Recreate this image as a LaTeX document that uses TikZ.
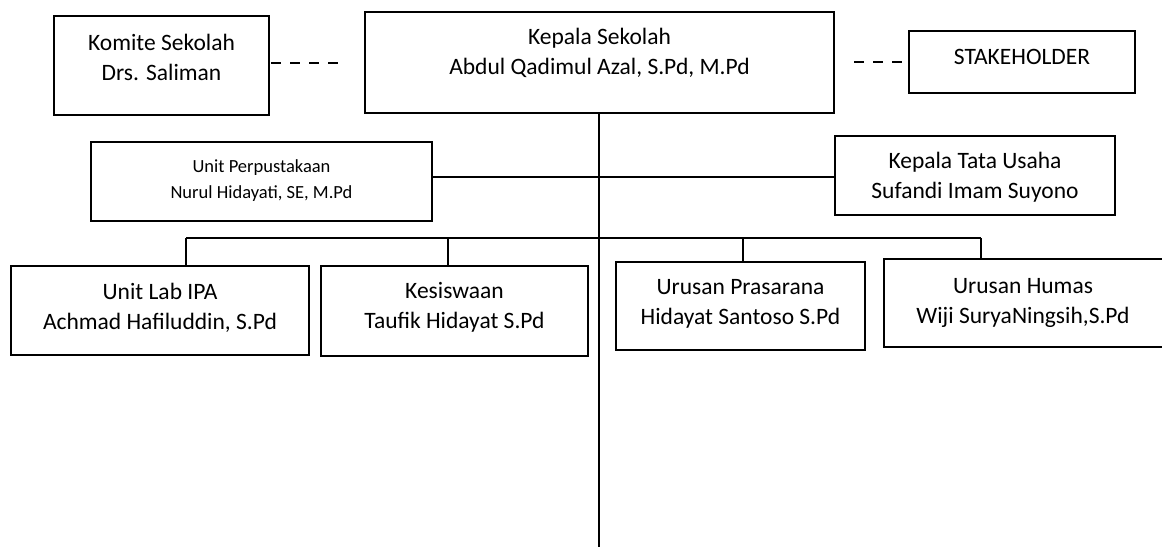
\documentclass[tikz,border=0pt]{standalone}
\usepackage{fontspec}
\setmainfont{Carlito}
\usetikzlibrary{calc}
\tikzset{
  orgbox/.style={draw=black, line width=1.4pt, fill=white, inner sep=0pt},
  orgtxt/.style={align=center, inner sep=0pt, font=\fontsize{23.5}{30}\selectfont},
  smalltxt/.style={align=center, inner sep=0pt, font=\fontsize{18.5}{26}\selectfont},
  conn/.style={line width=2pt, draw=black},
  mainline/.style={line width=2.6pt, draw=black},
  dashconn/.style={line width=2.4pt, draw=black}
}
\newcommand{\orgnode}[6]{% name, x1, y1, x2, y2
  \node[orgbox, minimum width={#4-#2}, minimum height={#5-#3}] (#1) at ({(#2+#4)/2},{(#3+#5)/2}) {};
}
\begin{document}
\begin{tikzpicture}[x=1pt,y=-1pt]
\useasboundingbox (0,0) rectangle (1162,547);
\fill[white] (0,0) rectangle (1162,547);

% boxes
\orgnode{kom}{54}{16}{269}{115}{}
\orgnode{kep}{365}{12}{834}{113}{}
\orgnode{stk}{909}{31}{1135}{93}{}
\orgnode{perp}{91}{142}{432}{221}{}
\orgnode{tu}{835}{136}{1115}{215}{}
\orgnode{lab}{11}{266}{309}{355}{}
\orgnode{kes}{321}{266}{588}{356}{}
\orgnode{pras}{616}{262}{865}{350}{}
\orgnode{hum}{884}{259}{1170}{347}{}

% texts
\node[orgtxt] (komt) at (161.5,57) {Komite Sekolah\\Drs. Saliman};
\node[orgtxt] (kept) at (599.5,53) {Kepala Sekolah\\Abdul Qadimul Azal, S.Pd, M.Pd};
\node[orgtxt] (stkt) at (1022,57) {STAKEHOLDER};
\node[smalltxt] (perpt) at (261.5,181) {Unit Perpustakaan\\Nurul Hidayati, SE, M.Pd};
\node[orgtxt] (tut) at (975,177.5) {Kepala Tata Usaha\\Sufandi Imam Suyono};
\node[orgtxt] (labt) at (160,307.5) {Unit Lab IPA\\Achmad Hafiluddin, S.Pd};
\node[orgtxt] (kest) at (454.5,307.5) {Kesiswaan\\Taufik Hidayat S.Pd};
\node[orgtxt] (prast) at (740.5,304) {Urusan Prasarana\\Hidayat Santoso S.Pd};
\node[orgtxt] (humt) at (1023,302.5) {Urusan Humas\\Wiji SuryaNingsih,S.Pd};

% coordinates
\coordinate (dl1) at (271,63);
\coordinate (dl2) at (338,63);
\coordinate (dr1) at (854,62);
\coordinate (dr2) at (902,62);
\coordinate (bot) at (599,547);
\coordinate (b1) at (186,238);
\coordinate (b2) at (448,238);
\coordinate (b3) at (743,238);
\coordinate (b4) at (981,238);

% connectors
\draw[dashconn, dash pattern=on 10pt off 9pt] (dl1) -- (dl2);
\draw[dashconn, dash pattern=on 10pt off 9pt] (dr1) -- (dr2);
\draw[mainline] (kep.south -| bot) -- (bot);
\draw[conn] (perp.east |- 0,177) -- (tu.west |- 0,177);
\draw[conn] (b1) -- (b4);
\draw[conn] (b1) -- (b1 |- lab.north);
\draw[conn] (b2) -- (b2 |- kes.north);
\draw[conn] (b3) -- (b3 |- pras.north);
\draw[conn] (b4) -- (b4 |- hum.north);
\end{tikzpicture}
\end{document}
